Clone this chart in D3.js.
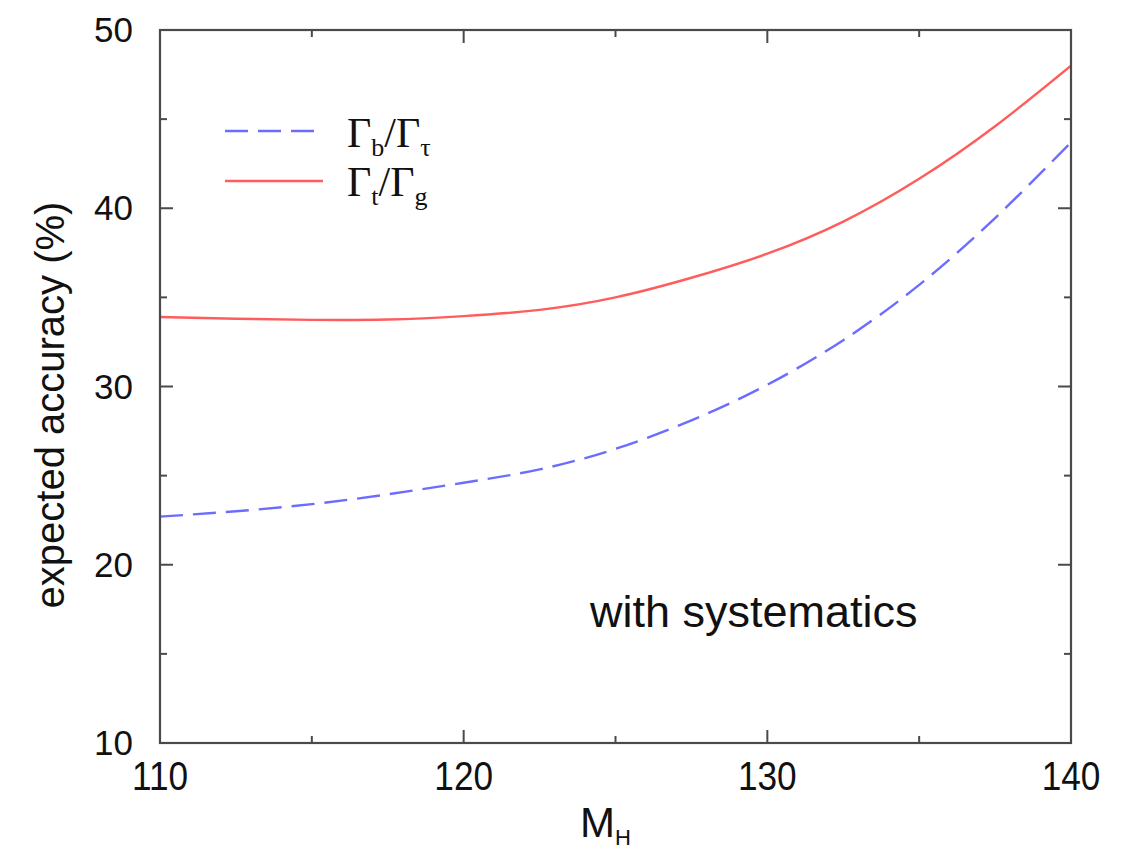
<!DOCTYPE html>
<html>
<head>
<meta charset="utf-8">
<script src="https://cdn.jsdelivr.net/npm/d3@7"></script>
<style>
  html, body { margin: 0; padding: 0; background: #fff; }
  svg { display: block; }
</style>
</head>
<body>
<script>
// Higgs mass points (GeV) and expected accuracy (%) of the width ratios
const massPoints = [110, 112.5, 115, 117.5, 120, 122.5, 125, 127.5, 130, 132.5, 135, 137.5, 140];
const ratioBTau  = [22.7, 23.0, 23.4, 23.95, 24.6, 25.35, 26.5, 28.1, 30.1, 32.6, 35.7, 39.45, 43.7];
const ratioTG    = [33.9, 33.8, 33.74, 33.76, 33.95, 34.3, 35.0, 36.1, 37.45, 39.25, 41.65, 44.6, 48.0];

const xMajorTicks = [110, 120, 130, 140];
const xMinorTicks = [115, 125, 135];
const yMajorTicks = [10, 20, 30, 40, 50];
const yMinorTicks = [15, 25, 35, 45];

const W = 1129, H = 850;
const plot = { left: 160, right: 1071, top: 30, bottom: 743 };

const svg = d3.select("body").append("svg")
  .attr("width", W).attr("height", H);

const x = d3.scaleLinear().domain([110, 140]).range([plot.left, plot.right]);
const y = d3.scaleLinear().domain([10, 50]).range([plot.bottom, plot.top]);

const sans = "'Liberation Sans', Arial, Helvetica, sans-serif";
const serif = "'Liberation Serif', 'Times New Roman', serif";

// Curves
const line = d3.line()
  .x(d => x(d[0]))
  .y(d => y(d[1]))
  .curve(d3.curveNatural);

svg.append("clipPath").attr("id", "plotClip")
  .append("rect")
  .attr("x", plot.left).attr("y", plot.top)
  .attr("width", plot.right - plot.left).attr("height", plot.bottom - plot.top);

const curves = svg.append("g").attr("clip-path", "url(#plotClip)");

curves.append("path")
  .datum(massPoints.map((m, i) => [m, ratioTG[i]]))
  .attr("d", line)
  .attr("fill", "none")
  .attr("stroke", "#ff5c5c")
  .attr("stroke-width", 2.4);

curves.append("path")
  .datum(massPoints.map((m, i) => [m, ratioBTau[i]]))
  .attr("d", line)
  .attr("fill", "none")
  .attr("stroke", "#6c6cff")
  .attr("stroke-width", 2.4)
  .attr("stroke-dasharray", "23,10");

// Frame
svg.append("rect")
  .attr("x", plot.left).attr("y", plot.top)
  .attr("width", plot.right - plot.left).attr("height", plot.bottom - plot.top)
  .attr("fill", "none")
  .attr("stroke", "#4a4a4a")
  .attr("stroke-width", 2.2);

// Inward ticks on all four sides
const majorLen = 13, minorLen = 7;
const ticks = svg.append("g").attr("stroke", "#4a4a4a").attr("stroke-width", 2);

function xTicks(vals, len) {
  vals.forEach(v => {
    ticks.append("line").attr("x1", x(v)).attr("x2", x(v))
      .attr("y1", plot.bottom).attr("y2", plot.bottom - len);
    ticks.append("line").attr("x1", x(v)).attr("x2", x(v))
      .attr("y1", plot.top).attr("y2", plot.top + len);
  });
}
function yTicks(vals, len) {
  vals.forEach(v => {
    ticks.append("line").attr("y1", y(v)).attr("y2", y(v))
      .attr("x1", plot.left).attr("x2", plot.left + len);
    ticks.append("line").attr("y1", y(v)).attr("y2", y(v))
      .attr("x1", plot.right).attr("x2", plot.right - len);
  });
}
xTicks(xMajorTicks, majorLen);
xTicks(xMinorTicks, minorLen);
yTicks(yMajorTicks, majorLen);
yTicks(yMinorTicks, minorLen);

// Tick labels
svg.append("g").selectAll("text")
  .data(yMajorTicks).enter().append("text")
  .attr("x", 133)
  .attr("y", d => y(d) + 12)
  .attr("text-anchor", "end")
  .attr("font-family", sans)
  .attr("font-size", 35)
  .attr("fill", "#111")
  .text(d => d);

svg.append("g").selectAll("text")
  .data(xMajorTicks).enter().append("text")
  .attr("transform", d => `translate(${x(d)},790) scale(0.88,1)`)
  .attr("text-anchor", "middle")
  .attr("font-family", sans)
  .attr("font-size", 40)
  .attr("fill", "#111")
  .text(d => d);

// Axis titles
const xTitle = svg.append("text")
  .attr("x", 580).attr("y", 837)
  .attr("font-family", sans)
  .attr("font-size", 42)
  .attr("fill", "#111");
xTitle.append("tspan").text("M");
xTitle.append("tspan").attr("font-size", 22).attr("dy", 8).text("H");

svg.append("text")
  .attr("transform", "translate(64,405) rotate(-90)")
  .attr("text-anchor", "middle")
  .attr("font-family", sans)
  .attr("font-size", 40)
  .attr("fill", "#111")
  .text("expected accuracy (%)");

// Annotation
svg.append("text")
  .attr("x", 590).attr("y", 627)
  .attr("font-family", sans)
  .attr("font-size", 45)
  .attr("fill", "#111")
  .text("with systematics");

// Legend
const legendItems = [
  { num: "b", den: "\u03C4", color: "#6c6cff", dash: "23,10", y: 131, base: 147 },
  { num: "t", den: "g", color: "#ff5c5c", dash: null, y: 181, base: 196 }
];
legendItems.forEach(item => {
  svg.append("line")
    .attr("x1", 225).attr("x2", 323)
    .attr("y1", item.y).attr("y2", item.y)
    .attr("stroke", item.color)
    .attr("stroke-width", 2.4)
    .attr("stroke-dasharray", item.dash);

  const t = svg.append("text")
    .attr("x", 347).attr("y", item.base)
    .attr("font-family", serif)
    .attr("font-size", 42)
    .attr("fill", "#111");
  t.append("tspan").text("\u0393");
  t.append("tspan").attr("font-size", 26).attr("dy", 9).text(item.num);
  t.append("tspan").attr("dy", -9).text("/\u0393");
  t.append("tspan").attr("font-size", 26).attr("dy", 9).text(item.den);
});
</script>
</body>
</html>
